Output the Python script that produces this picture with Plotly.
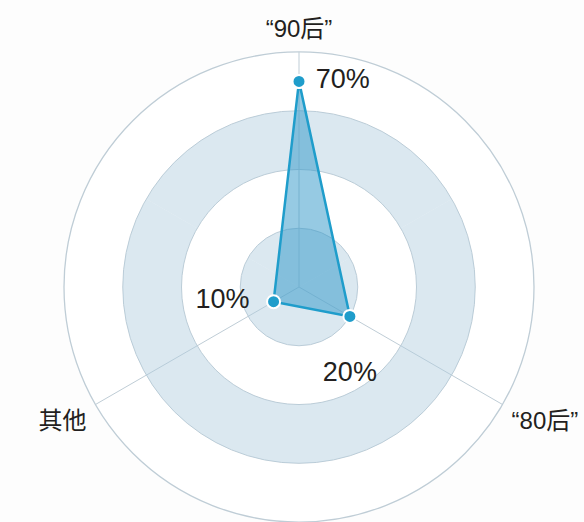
import plotly.graph_objects as go

# ---- data ----
categories = ["“90后”", "“80后”", "其他"]
values = [70, 20, 10]
value_labels = ["70%", "20%", "10%"]
band_starts = [0, 40]       # shaded rings start (radial units)
band_size = 20              # ring thickness
grid_vals = [20, 40, 60, 80]

FONT = "Liberation Sans, Arial, Noto Sans CJK SC, sans-serif"
GRID = "#bfcdd6"
BAND = "rgba(176,204,222,0.45)"
LINE = "#1f9dcb"

NB = "\u00a0"
point_text = [NB + value_labels[0], "<br>" + value_labels[1], value_labels[2] + NB * 2, ""]

fig = go.Figure()

for b in band_starts:
    fig.add_trace(go.Barpolar(
        theta=categories, r=[band_size] * len(categories), base=[b] * len(categories),
        width=[1] * len(categories),
        marker=dict(color=BAND, line=dict(width=0)),
        hoverinfo="skip", showlegend=False,
    ))

fig.add_trace(go.Scatterpolar(
    theta=categories + [categories[0]],
    r=values + [values[0]],
    mode="lines+markers+text",
    text=point_text,
    textposition=["middle right", "bottom center", "middle left", "middle right"],
    textfont=dict(family=FONT, size=27, color="#231f20"),
    fill="toself",
    fillcolor="rgba(45,150,200,0.5)",
    line=dict(color=LINE, width=2.5),
    marker=dict(size=13, color=LINE, line=dict(color="white", width=2)),
    showlegend=False,
))

fig.update_layout(
    width=584, height=522,
    margin=dict(l=0, r=0, t=0, b=0),
    paper_bgcolor="#fdfdfd",
    showlegend=False,
    polar=dict(
        domain=dict(x=[64 / 584, 534 / 584], y=[0, 470 / 522]),
        bgcolor="white",
        bargap=0,
        radialaxis=dict(
            range=[0, 80], tickvals=grid_vals, showticklabels=False,
            showline=False, ticks="", gridcolor=GRID, gridwidth=1.3,
        ),
        angularaxis=dict(
            type="category", categoryorder="array", categoryarray=categories,
            direction="clockwise", rotation=90,
            showline=True, linecolor=GRID, linewidth=1.3,
            gridcolor=GRID, gridwidth=1.3,
            ticks="outside", ticklen=5, tickcolor="rgba(0,0,0,0)",
            tickfont=dict(family=FONT, size=24, color="#231f20"),
        ),
    ),
)

fig.write_html("out.html")
